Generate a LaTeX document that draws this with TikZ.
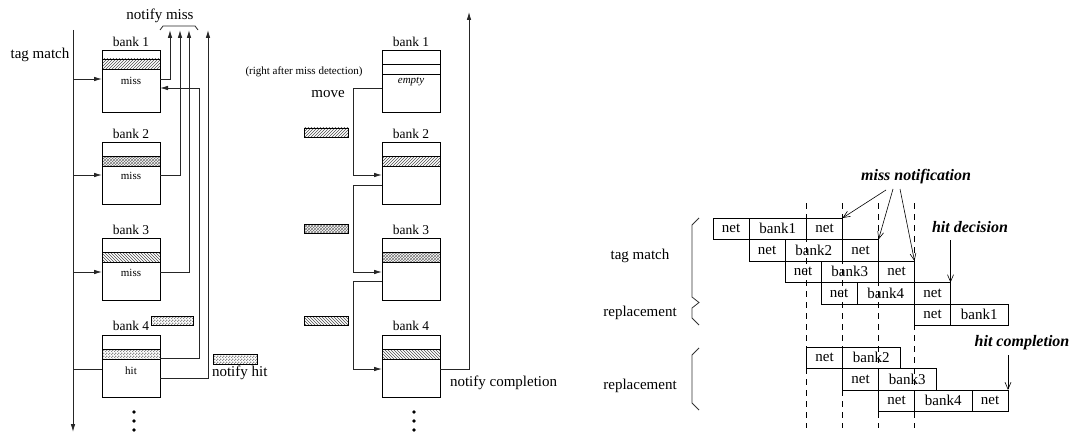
\documentclass[tikz,border=0pt]{standalone}
\usepackage{fontspec}
\setmainfont{Liberation Serif}
\usetikzlibrary{arrows.meta,patterns,calc}
\pgfdeclarepatternformonly{fchecks}{\pgfqpoint{0pt}{0pt}}{\pgfqpoint{3pt}{3pt}}{\pgfqpoint{3pt}{3pt}}{%
  \pgfpathrectangle{\pgfqpoint{0pt}{0pt}}{\pgfqpoint{1.5pt}{1.5pt}}%
  \pgfpathrectangle{\pgfqpoint{1.5pt}{1.5pt}}{\pgfqpoint{1.5pt}{1.5pt}}%
  \pgfusepath{fill}}
\begin{document}
\begin{tikzpicture}[x=1pt,y=-1pt,
  every node/.style={inner sep=0pt, outer sep=0pt},
  ln/.style={line width=0.8pt, black!85},
  box/.style={draw, line width=0.8pt, minimum width=58pt, minimum height=62pt},
  stripbox/.style={draw, line width=0.8pt, pattern color=black!70},
  farr/.style={ln, -{Latex[length=8pt,width=4.5pt]}},
  varr/.style={line width=0.6pt, -{Straight Barb[length=7pt,width=6pt]}},
  big/.style={font=\fontsize{15}{18}\selectfont},
  mid/.style={font=\fontsize{13.5}{16}\selectfont},
  small/.style={font=\fontsize{11}{13}\selectfont},
  cell/.style={draw, line width=0.8pt, minimum height=21.5pt, anchor=west, font=\fontsize{15}{18}\selectfont},
  netc/.style={cell, minimum width=36pt},
  bankc/.style={cell, minimum width=57.5pt},
  brk/.style={line width=0.8pt, black!80},
  dsh/.style={line width=0.8pt, dash pattern=on 6pt off 5pt},
  dotc/.style={circle, fill, minimum size=3.6pt},
  bi/.style={font=\fontsize{16}{19}\selectfont\bfseries\itshape},
  xh/.style={pattern=crosshatch, pattern color=black!55},
  ck/.style={pattern=fchecks, pattern color=black!45}
]
\useasboundingbox (0,0) rectangle (1078,433);

% ---------------- left diagram ----------------
\node[big] (tmlbl) at (40,55) {tag match};
\node[big] (nmlbl) at (160,16) {notify miss};
\coordinate (tmtop) at (73,30);
\coordinate (tmbot) at (73,432);
\draw[farr] (tmtop) -- (tmbot);

\node[box] (L1) at (131,81) {};
\node[box] (L2) at (131,173) {};
\node[box] (L3) at (131,269.5) {};
\node[box] (L4) at (131,366) {};
\draw[stripbox, pattern=north east lines] ($(L1.north west)+(0,9)$) rectangle ($(L1.north east)+(0,19)$);
\draw[stripbox, xh] ($(L2.north west)+(0,14)$) rectangle ($(L2.north east)+(0,24)$);
\draw[stripbox, pattern=north west lines] ($(L3.north west)+(0,14)$) rectangle ($(L3.north east)+(0,24)$);
\draw[stripbox, ck] ($(L4.north west)+(0,14)$) rectangle ($(L4.north east)+(0,24)$);
\node[mid] (lb1) at (131,42) {bank 1};
\node[mid] (lb2) at (131,134) {bank 2};
\node[mid] (lb3) at (131,230) {bank 3};
\node[mid] (lb4) at (131,326) {bank 4};
\node[small] (lm1) at (131,81) {miss};
\node[small] (lm2) at (131,176) {miss};
\node[small] (lm3) at (131,273) {miss};
\node[small] (lm4) at (131,371) {hit};

\coordinate (t1) at (73,79);
\coordinate (t2) at (73,175);
\coordinate (t3) at (73,272);
\coordinate (t4) at (73,369);
\draw[farr] (t1) -- (t1 -| L1.west);
\draw[farr] (t2) -- (t2 -| L2.west);
\draw[farr] (t3) -- (t3 -| L3.west);
\draw[ln] (t4) -- (t4 -| L4.west);

\coordinate (n1) at (170,30);
\coordinate (n2) at (180,30);
\coordinate (n3) at (189,30);
\coordinate (n4) at (208,30);
\draw[farr] (t1 -| L1.east) -| (n1);
\draw[farr] (t2 -| L2.east) -| (n2);
\draw[farr] (t3 -| L3.east) -| (n3);
\coordinate (h4) at (160,378);
\draw[farr] (h4 -| L4.east) -| (n4);
\coordinate (s4) at (160,358);
\coordinate (r1) at (199,88);
\draw[farr] (s4 -| L4.east) -| (r1) -- (r1 -| L1.east);
\coordinate (bra) at (160,30);
\coordinate (brb) at (198,30);
\draw[ln] (bra) -- ++(3,-4) -- ++(32,0) -- (brb);

\draw[stripbox, ck] (151,316) rectangle (193,325);
\draw[stripbox, ck] (213,354) rectangle (257,364);
\node[big, anchor=west] (nhlbl) at (212,373) {notify hit};

\node[dotc] (ld1) at (134,412) {};
\node[dotc] (ld2) at (134,421) {};
\node[dotc] (ld3) at (134,430) {};

% ---------------- middle diagram ----------------
\node[box] (M1) at (411,81) {};
\node[box] (M2) at (411,173) {};
\node[box] (M3) at (411,269.5) {};
\node[box] (M4) at (411,366) {};
\draw[stripbox] ($(M1.north west)+(0,14)$) rectangle ($(M1.north east)+(0,24)$);
\draw[stripbox, pattern=north east lines] ($(M2.north west)+(0,14)$) rectangle ($(M2.north east)+(0,24)$);
\draw[stripbox, xh] ($(M3.north west)+(0,14)$) rectangle ($(M3.north east)+(0,24)$);
\draw[stripbox, pattern=north west lines] ($(M4.north west)+(0,14)$) rectangle ($(M4.north east)+(0,24)$);
\node[mid] (mb1) at (411,42) {bank 1};
\node[mid] (mb2) at (411,134) {bank 2};
\node[mid] (mb3) at (411,230) {bank 3};
\node[mid] (mb4) at (411,326) {bank 4};
\node[small, font=\fontsize{11}{13}\selectfont\itshape] (emp) at (411,82) {empty};
\node[small] (rad) at (304,72) {(right after miss detection)};
\node[big] (mvlbl) at (328,94) {move};

\coordinate (v1) at (353,88);
\coordinate (v2) at (353,185);
\coordinate (v3) at (353,281);
\coordinate (w2) at (353,175);
\coordinate (w3) at (353,272);
\coordinate (w4) at (353,369);
\draw[farr] (v1 -| M1.west) -- (v1) -- (w2) -- (w2 -| M2.west);
\draw[farr] (v2 -| M2.west) -- (v2) -- (w3) -- (w3 -| M3.west);
\draw[farr] (v3 -| M3.west) -- (v3) -- (w4) -- (w4 -| M4.west);
\draw[stripbox, pattern=north east lines] (304,128) rectangle (348,137);
\draw[stripbox, xh] (304,224) rectangle (348,233);
\draw[stripbox, pattern=north west lines] (304,316) rectangle (348,325);

\coordinate (nc) at (469,12);
\draw[farr] (w4 -| M4.east) -| (nc);
\node[big, anchor=west] (nclbl) at (450,383) {notify completion};

\node[dotc] (md1) at (414,412) {};
\node[dotc] (md2) at (414,421) {};
\node[dotc] (md3) at (414,430) {};

% ---------------- right diagram ----------------
\foreach \xx/\nm in {806.5/da,842.5/db,878.5/dc,914.5/dd}{
  \coordinate (\nm t) at (\xx,203);
  \coordinate (\nm b) at (\xx,428);
  \draw[dsh] (\nm t) -- (\nm b);
}
\node[netc] (a1) at (713,228.75) {net};
\node[bankc] (a2) at (a1.east) {bank1};
\node[netc] (a3) at (a2.east) {net};
\node[netc] (b1) at (749,250.25) {net};
\node[bankc] (b2) at (b1.east) {bank2};
\node[netc] (b3) at (b2.east) {net};
\node[netc] (c1) at (785,271.75) {net};
\node[bankc] (c2) at (c1.east) {bank3};
\node[netc] (c3) at (c2.east) {net};
\node[netc] (d1) at (821,293.25) {net};
\node[bankc] (d2) at (d1.east) {bank4};
\node[netc] (d3) at (d2.east) {net};
\node[netc] (e1) at (914.5,314.75) {net};
\node[bankc] (e2) at (e1.east) {bank1};

\node[netc] (f1) at (806.5,357.75) {net};
\node[bankc] (f2) at (f1.east) {bank2};
\node[netc] (g1) at (842.5,379.25) {net};
\node[bankc] (g2) at (g1.east) {bank3};
\node[netc] (h1) at (878.5,400.75) {net};
\node[bankc] (h2) at (h1.east) {bank4};
\node[netc] (h3) at (h2.east) {net};

\node[bi] (mnlbl) at (916,177) {miss notification};
\node[bi] (hdlbl) at (970,227) {hit decision};
\node[bi] (hclbl) at (1022,343) {hit completion};
\coordinate (mn1) at (886,190);
\coordinate (mn2) at (893,189);
\coordinate (mn3) at (900,189);
\draw[varr] (mn1) -- (a3.north east);
\draw[varr] (mn2) -- (b3.north east);
\draw[varr] (mn3) -- (c3.north east);
\coordinate (hd) at (950.5,240);
\draw[varr] (hd) -- (d3.north east);
\coordinate (hc) at (1008,355);
\draw[varr] (hc) -- (h3.north east);

\node[big] (tmr) at (640,256) {tag match};
\node[big] (rp1) at (640,313) {replacement};
\node[big] (rp2) at (640,386) {replacement};
\coordinate (k1) at (699,218);
\coordinate (k2) at (699,302.5);
\coordinate (k3) at (699,325);
\coordinate (k4) at (699,348);
\coordinate (k5) at (699,410);
\draw[brk] (k1) -- (692,225) -- (692,297) -- (k2) -- (692,308) -- (692,318) -- (k3);
\draw[brk] (k4) -- (692,355) -- (692,403) -- (k5);
\end{tikzpicture}
\end{document}
